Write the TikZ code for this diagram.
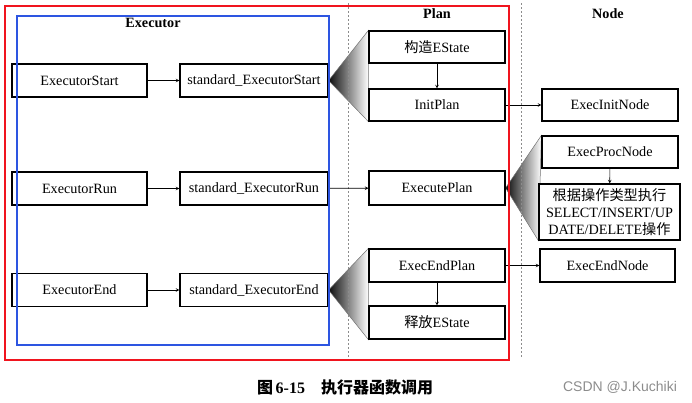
\documentclass[tikz,border=0pt]{standalone}
\usepackage{fontspec}
\setmainfont{Liberation Serif}
\newfontfamily\cjk{Noto Sans CJK SC}
\newfontfamily\wmfont{Liberation Sans}
\usetikzlibrary{arrows,backgrounds}
\definecolor{framered}{RGB}{240,20,30}
\definecolor{frameblue}{RGB}{45,85,225}
\tikzset{
  fnbox/.style={draw, line width=1.2pt, fill=white, inner sep=0pt,
    minimum height=33pt, font=\fontsize{14.2}{17}\selectfont},
  callarr/.style={-stealth, line width=0.6pt},
  fan/.style={left color=black!95, middle color=black!30, right color=white,
    draw=black!55, line width=0.5pt},
  lane/.style={draw=black!45, dash pattern=on 2pt off 2pt, line width=0.7pt},
  lanehead/.style={font=\fontsize{14.2}{15}\selectfont\bfseries},
}

\begin{document}
\begin{tikzpicture}[x=1pt,y=-1pt]
\useasboundingbox (0,0) rectangle (692,402);
\draw[lane] (348,3) -- (348,357);
\draw[lane] (521,3) -- (521,357);
\node[lanehead] (hexec) at (153,23) {Executor};
\node[lanehead] (hplan) at (437,14) {Plan};
\node[lanehead] (hnode) at (608,14) {Node};
% executor column
\node[fnbox, minimum width=135pt] (estart) at (79.5,80.5) {ExecutorStart};
\node[fnbox, minimum width=148pt] (sstart) at (254,80.5) {standard\_ExecutorStart};
\node[fnbox, minimum width=135pt] (erun) at (79.5,188.5) {ExecutorRun};
\node[fnbox, minimum width=148pt] (srun) at (254,188.5) {standard\_ExecutorRun};
\node[fnbox, minimum width=135pt] (eend) at (79.5,290) {ExecutorEnd};
\node[fnbox, minimum width=148pt] (send) at (254,290) {standard\_ExecutorEnd};
% plan column
\node[fnbox, minimum width=136pt, minimum height=32pt] (mkstate) at (437,47) {{\cjk 构造}EState};
\node[fnbox, minimum width=136pt, minimum height=32pt] (initplan) at (437,105) {InitPlan};
\node[fnbox, minimum width=136pt, minimum height=34pt] (execplan) at (437,188) {ExecutePlan};
\node[fnbox, minimum width=136pt] (endplan) at (437,265.5) {ExecEndPlan};
\node[fnbox, minimum width=136pt] (freestate) at (437,322.5) {{\cjk 释放}EState};
% node column
\node[fnbox, minimum width=136pt, minimum height=32pt] (initnode) at (610,105) {ExecInitNode};
\node[fnbox, minimum width=136pt, minimum height=32pt] (procnode) at (610,152) {ExecProcNode};
\node[fnbox, minimum width=141pt, minimum height=56pt, align=center] (doop) at (609.5,212)
  {{\cjk 根据操作类型执行}\\SELECT/INSERT/UP\\DATE/DELETE{\cjk 操作}};
\node[fnbox, minimum width=135pt] (endnode) at (607.5,265.5) {ExecEndNode};
%\node [fill=red,inner sep=1pt] at (execplan.east) {};
\begin{scope}[on background layer]
\shade[fan]
  (sstart.east) -- (mkstate.north west) -- (initplan.south west) -- cycle;
\shade[fan]
  (execplan.east) -- (procnode.north west) -- (doop.south west) -- cycle;
\shade[fan]
  (send.east) -- (endplan.north west) -- (freestate.south west) -- cycle;
\end{scope}
\draw[callarr] (estart) -- (sstart);
\draw[callarr] (erun) -- (srun);
\draw[callarr] (eend) -- (send);
\draw[callarr] (srun) -- (execplan);
\draw[callarr] (mkstate) -- (initplan);
\draw[callarr] (initplan) -- (initnode);
\draw[callarr] (procnode) -- (doop);
\draw[callarr] (endplan) -- (endnode);
\draw[callarr] (endplan) -- (freestate);
% frames
\draw[framered, line width=1.6pt] (5,6) rectangle (509,360);
\draw[frameblue, line width=1.6pt] (17,16) rectangle (329,345);
\node[font=\fontsize{16}{18}\selectfont\bfseries] (caption) at (345,387)
  {{\cjk 图}\,6-15\quad{\cjk 执行器函数调用}};
\node[font=\wmfont\fontsize{14}{16}\selectfont, text=black!45] (mark) at (620,387)
  {CSDN @J.Kuchiki};
\end{tikzpicture}
\end{document}
